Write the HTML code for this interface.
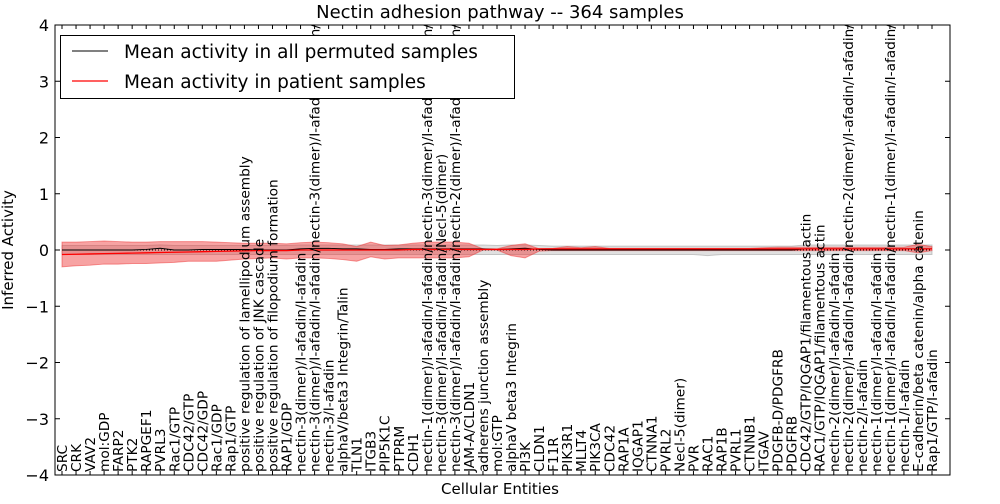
<!DOCTYPE html>
<html><head><meta charset="utf-8"><style>
body{margin:0;background:#fff;font-family:"DejaVu Sans",sans-serif}
svg text{font-family:"DejaVu Sans","Liberation Sans",sans-serif}
</style></head><body>
<svg id="c" width="1000" height="500" xmlns="http://www.w3.org/2000/svg">
<defs><clipPath id="pc"><rect x="55" y="25" width="895" height="450"/></clipPath></defs>
<rect width="1000" height="500" fill="#fff"/>
<g id="bands"></g><g id="lines"></g><g id="labels" clip-path="url(#pc)"></g><g id="axes"></g>
</svg>
<script>
const categories=["SRC","CRK","VAV2","mol:GDP","FARP2","PTK2","RAPGEF1","PVRL3","Rac1/GTP","CDC42/GTP","CDC42/GDP","Rac1/GDP","Rap1/GTP","positive regulation of lamellipodium assembly","positive regulation of JNK cascade","positive regulation of filopodium formation","RAP1/GDP","nectin-3(dimer)/I-afadin/I-afadin","nectin-3(dimer)/I-afadin/I-afadin/nectin-3(dimer)/I-afadin/I-afadin/complex","nectin-3/I-afadin","alphaV/beta3 Integrin/Talin","TLN1","ITGB3","PIP5K1C","PTPRM","CDH1","nectin-1(dimer)/I-afadin/I-afadin/nectin-3(dimer)/I-afadin/I-afadin/complex","nectin-3(dimer)/I-afadin/I-afadin/Necl-5(dimer)","nectin-3(dimer)/I-afadin/I-afadin/nectin-2(dimer)/I-afadin/I-afadin/complex","JAM-A/CLDN1","adherens junction assembly","mol:GTP","alphaV beta3 Integrin","PI3K","CLDN1","F11R","PIK3R1","MLLT4","PIK3CA","CDC42","RAP1A","IQGAP1","CTNNA1","PVRL2","Necl-5(dimer)","PVR","RAC1","RAP1B","PVRL1","CTNNB1","ITGAV","PDGFB-D/PDGFRB","PDGFRB","CDC42/GTP/IQGAP1/filamentous actin","RAC1/GTP/IQGAP1/filamentous actin","nectin-2(dimer)/I-afadin/I-afadin","nectin-2(dimer)/I-afadin/I-afadin/nectin-2(dimer)/I-afadin/I-afadin/complex","nectin-2/I-afadin","nectin-1(dimer)/I-afadin/I-afadin","nectin-1(dimer)/I-afadin/I-afadin/nectin-1(dimer)/I-afadin/I-afadin/complex","nectin-1/I-afadin","E-cadherin/beta catenin/alpha catenin","Rap1/GTP/I-afadin"];
const permMean=[0,0,0,0,0,0,0.01,0.03,0,0,0.01,0.01,0.01,0.01,0,0,0,0.02,0.03,0.03,0.02,0.02,0.01,0.01,0.02,0.02,0.02,0.02,0.02,0.02,0.02,0.01,0.02,0.03,0.01,0,0,0,0,0,0,0,0,0,0,0,0,0,0,0,0,0,0,0.02,0.02,0.02,0.02,0.02,0.02,0.02,0.02,0.02,0.02];
const permHi=[0.08,0.08,0.08,0.08,0.08,0.08,0.08,0.09,0.08,0.08,0.08,0.08,0.08,0.08,0.08,0.08,0.08,0.09,0.09,0.09,0.09,0.09,0.09,0.09,0.09,0.09,0.09,0.09,0.09,0.09,0.09,0.08,0.09,0.09,0.08,0.07,0.07,0.07,0.07,0.07,0.07,0.07,0.07,0.07,0.07,0.07,0.07,0.07,0.07,0.07,0.07,0.07,0.07,0.09,0.09,0.09,0.09,0.09,0.09,0.09,0.09,0.09,0.09];
const permLo=[-0.08,-0.08,-0.08,-0.08,-0.08,-0.08,-0.08,-0.08,-0.08,-0.08,-0.08,-0.08,-0.08,-0.08,-0.08,-0.08,-0.08,-0.08,-0.08,-0.08,-0.08,-0.08,-0.08,-0.08,-0.08,-0.08,-0.08,-0.08,-0.08,-0.08,-0.08,-0.08,-0.08,-0.08,-0.08,-0.08,-0.08,-0.08,-0.08,-0.08,-0.08,-0.08,-0.08,-0.08,-0.08,-0.08,-0.1,-0.08,-0.08,-0.08,-0.08,-0.08,-0.08,-0.08,-0.08,-0.08,-0.08,-0.08,-0.08,-0.08,-0.08,-0.08,-0.08];
const patMean=[-0.08,-0.075,-0.07,-0.065,-0.06,-0.055,-0.05,-0.045,-0.04,-0.035,-0.03,-0.025,-0.02,-0.015,-0.01,-0.01,-0.01,0,0,0,0,0,0,0,0,0.01,0.01,0.01,0.01,0.01,0.01,0.01,0.01,0.01,0.02,0.02,0.02,0.02,0.02,0.02,0.02,0.02,0.02,0.02,0.02,0.02,0.02,0.02,0.02,0.02,0.02,0.02,0.02,0.02,0.02,0.02,0.02,0.02,0.02,0.02,0.02,0.02,0.02];
const patHi=[0.14,0.14,0.15,0.16,0.15,0.14,0.14,0.15,0.15,0.15,0.15,0.14,0.13,0.12,0.12,0.12,0.11,0.13,0.14,0.13,0.11,0.06,0.14,0.08,0.09,0.12,0.14,0.14,0.14,0.12,0.02,0.02,0.08,0.11,0.02,0.03,0.06,0.04,0.06,0.03,0.03,0.03,0.03,0.03,0.03,0.03,0.03,0.03,0.03,0.03,0.04,0.05,0.05,0.05,0.05,0.05,0.05,0.05,0.05,0.05,0.05,0.1,0.06];
const patLo=[-0.3,-0.28,-0.27,-0.25,-0.25,-0.24,-0.24,-0.23,-0.22,-0.2,-0.2,-0.2,-0.18,-0.16,-0.15,-0.14,-0.16,-0.14,-0.14,-0.15,-0.17,-0.2,-0.12,-0.16,-0.14,-0.14,-0.14,-0.14,-0.14,-0.12,0,0,-0.1,-0.14,-0.02,-0.01,-0.01,-0.01,-0.01,-0.01,-0.01,-0.01,-0.01,-0.01,-0.01,-0.01,-0.01,-0.01,-0.01,-0.01,-0.01,-0.01,-0.01,-0.01,-0.01,-0.01,-0.01,-0.01,-0.01,-0.01,-0.01,-0.05,-0.01];
const yTicks=[-4,-3,-2,-1,0,1,2,3,4];

const NS="http://www.w3.org/2000/svg";
const L=55,R=950,T=25,B=475;
const x=i=>62+i*(932-62)/(categories.length-1);
const y=v=>T+(4-v)*(B-T)/8;
function mk(tag,attrs,parent){const e=document.createElementNS(NS,tag);for(const k in attrs)e.setAttribute(k,attrs[k]);parent.appendChild(e);return e;}
const bands=document.getElementById('bands'),lines=document.getElementById('lines'),labels=document.getElementById('labels'),axes=document.getElementById('axes');
function area(hi,lo,fill,op,name){let d='M'+hi.map((v,i)=>x(i)+','+y(v)).join('L');for(let i=lo.length-1;i>=0;i--)d+='L'+x(i)+','+y(lo[i]);d+='Z';const p=mk('path',{d:d,fill:fill,'fill-opacity':op,stroke:fill,'stroke-opacity':0.5},bands);

}
area(permHi,permLo,'#999',0.3,'permuted-band');
area(patHi,patLo,'#e33',0.45,'patient-band');
function line(vals,col,w,name,dash){const p=mk('polyline',{points:vals.map((v,i)=>x(i)+','+y(v)).join(' '),fill:'none',stroke:col,'stroke-width':w},lines);if(dash)p.setAttribute('stroke-dasharray',dash);

}
line(categories.map(()=>0),'#000',1,'zero-line','1,2');
line(permMean,'#000',1,'permuted-mean-line');
line(patMean,'#f00',1.3,'patient-mean-line');
categories.forEach((c,i)=>{const t=mk('text',{x:0,y:0,'font-size':13.7,transform:`translate(${x(i)+5},472) rotate(-90)`},labels);t.textContent=c;


mk('line',{x1:x(i),x2:x(i),y1:B,y2:B-4,stroke:'#000'},axes);mk('line',{x1:x(i),x2:x(i),y1:T,y2:T+4,stroke:'#000'},axes);});
const fr=mk('rect',{x:L,y:T,width:R-L,height:B-T,fill:'none',stroke:'#000'},axes);


yTicks.forEach(v=>{mk('line',{x1:L,x2:L+5,y1:y(v),y2:y(v),stroke:'#000'},axes);mk('line',{x1:R-5,x2:R,y1:y(v),y2:y(v),stroke:'#000'},axes);
const t=mk('text',{x:L-6,y:y(v)+6,'font-size':16,'text-anchor':'end'},axes);t.textContent=v<0?'\u2212'+(-v):v;

});
</script>
<svg width="1000" height="500" style="position:absolute;left:0;top:0" xmlns="http://www.w3.org/2000/svg">
<text x="500" y="18" font-size="18" text-anchor="middle">Nectin adhesion pathway -- 364 samples</text>
<text x="500" y="494" font-size="15" text-anchor="middle">Cellular Entities</text>
<text transform="translate(13,250) rotate(-90)" font-size="15" text-anchor="middle">Inferred Activity</text>
<g>
<rect x="60.5" y="35.5" width="454" height="63" fill="#fff" stroke="#000"/>
<line x1="72" x2="108" y1="51" y2="51" stroke="#000"/>
<text x="124" y="58" font-size="18.5">Mean activity in all permuted samples</text>
<line x1="72" x2="108" y1="81" y2="81" stroke="#f00" stroke-width="1.3"/>
<text x="124" y="88" font-size="18.5">Mean activity in patient samples</text>
</g>
</svg>
</body></html>
